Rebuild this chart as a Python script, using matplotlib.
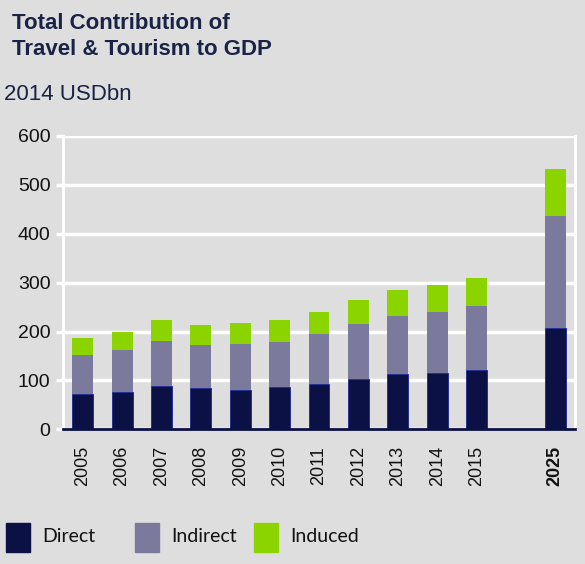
import matplotlib.pyplot as plt
from matplotlib.patches import Rectangle

# Data (2014 USDbn)
years = ['2005', '2006', '2007', '2008', '2009', '2010',
         '2011', '2012', '2013', '2014', '2015', '2025']
positions = [0, 1, 2, 3, 4, 5, 6, 7, 8, 9, 10, 12]
direct = [72, 77, 89, 85, 81, 86, 93, 103, 113, 116, 122, 207]
indirect = [79, 85, 92, 88, 94, 93, 101, 113, 118, 123, 130, 229]
induced = [36, 38, 43, 41, 43, 44, 46, 49, 54, 56, 58, 96]

c_direct = '#0b1045'
c_indirect = '#7b7a9c'
c_induced = '#8cd400'
bg = '#dedede'

plt.rcParams['font.family'] = ['Liberation Sans', 'DejaVu Sans']

fig = plt.figure(figsize=(5.85, 5.64), dpi=100)
fig.patch.set_facecolor(bg)
ax = fig.add_axes([0.1077, 0.2388, 0.8753, 0.5201])
ax.set_facecolor(bg)

w = 0.53
bottom2 = [d + i for d, i in zip(direct, indirect)]
ax.bar(positions, direct, w, color=c_direct, edgecolor='#1a2590', linewidth=0.6, zorder=3)
ax.bar(positions, indirect, w, bottom=direct, color=c_indirect, linewidth=0, zorder=3)
ax.bar(positions, induced, w, bottom=bottom2, color=c_induced, linewidth=0, zorder=3)

ax.set_xlim(-0.5, 12.5)
ax.set_ylim(0, 600)
ax.set_yticks([0, 100, 200, 300, 400, 500, 600])
ax.yaxis.grid(True, color='white', linewidth=2.5, zorder=0)
ax.set_axisbelow(True)

for s in ['left', 'right', 'top']:
    ax.spines[s].set_color('white')
    ax.spines[s].set_linewidth(2)
ax.spines['top'].set_visible(False)
ax.spines['bottom'].set_color(c_direct)
ax.spines['bottom'].set_linewidth(2)
ax.spines['bottom'].set_zorder(4)

ax.tick_params(axis='y', colors='white', length=5, width=2.5, labelsize=14,
               labelcolor='#111111', pad=4)
ax.set_xticks(positions)
ax.set_xticklabels(years, rotation=90, fontsize=13, color='#111111')
ax.tick_params(axis='x', length=0, pad=12)
ax.get_xticklabels()[-1].set_fontweight('bold')

fig.text(0.021, 0.977, 'Total Contribution of\nTravel & Tourism to GDP', fontsize=16,
         fontweight='bold', color='#1a2245', va='top', ha='left', linespacing=1.3)
fig.text(0.007, 0.833, '2014 USDbn', fontsize=16, color='#1a2245', va='center', ha='left')

# legend drawn in figure space
legend_items = [('Direct', c_direct, 6), ('Indirect', c_indirect, 135), ('Induced', c_induced, 254)]
for label, col, x0 in legend_items:
    fig.patches.append(Rectangle((x0 / 585, 1 - 552 / 564), 24 / 585, 29 / 564,
                                 transform=fig.transFigure, color=col))
    fig.text((x0 + 36) / 585, 1 - 537 / 564, label, fontsize=14, family=['Lato', 'DejaVu Sans'],
             color='#111111', va='center', ha='left')

fig.savefig('out.png', dpi=100, facecolor=bg)
